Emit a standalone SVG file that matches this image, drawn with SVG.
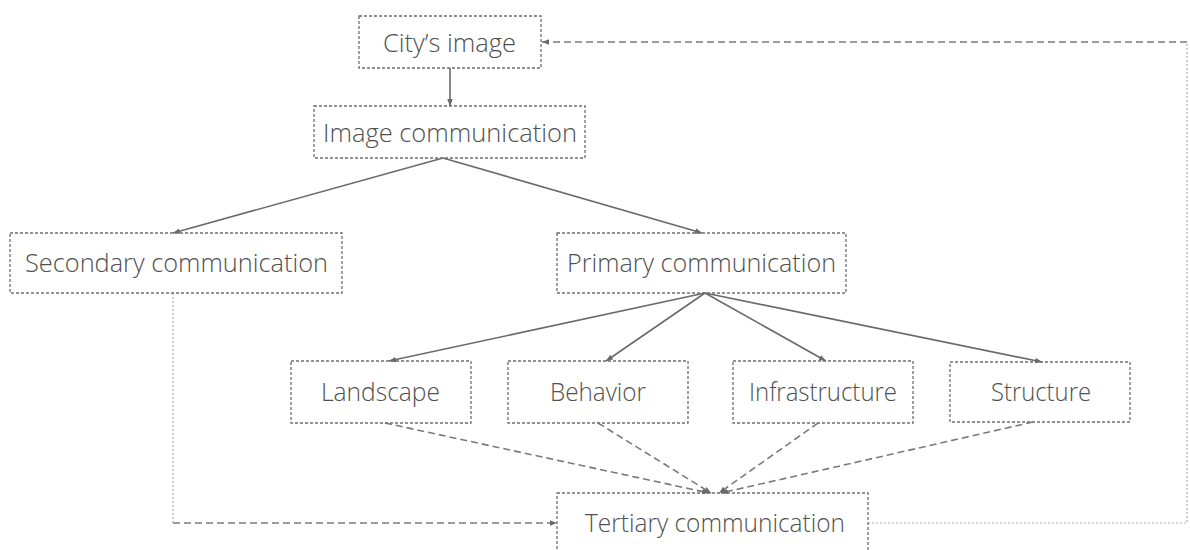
<svg xmlns="http://www.w3.org/2000/svg" width="1190" height="550" viewBox="0 0 1190 550">
<style>
.box{fill:none;stroke:#6e6e6e;stroke-width:1.3;stroke-dasharray:3 2}
.t{font-family:"Open Sans","Liberation Sans",sans-serif;font-weight:300;font-size:25px;fill:#505050;text-anchor:middle}
.solid{fill:none;stroke:#6a6a6a;stroke-width:1.6}
.dash{fill:none;stroke:#7a7a7a;stroke-width:1.6;stroke-dasharray:7 4}
.dot{fill:none;stroke:#b0b0b0;stroke-width:1.2;stroke-dasharray:2 2}
</style>
<defs>
<marker id="ah" viewBox="0 0 10 10" refX="10" refY="5" markerWidth="7" markerHeight="7" markerUnits="userSpaceOnUse" orient="auto"><path d="M0,1 L10,5 L0,9 z" fill="#6a6a6a"/></marker>
</defs>
<rect width="1190" height="550" fill="#fff"/>
<g id="connectors">
<line class="solid" x1="450" y1="68" x2="450" y2="106" marker-end="url(#ah)"/>
<line class="solid" x1="443" y1="158" x2="173" y2="233" marker-end="url(#ah)"/>
<line class="solid" x1="443" y1="158" x2="702" y2="233" marker-end="url(#ah)"/>
<line class="solid" x1="705" y1="293" x2="389" y2="361" marker-end="url(#ah)"/>
<line class="solid" x1="705" y1="293" x2="606" y2="361" marker-end="url(#ah)"/>
<line class="solid" x1="705" y1="293" x2="826" y2="361" marker-end="url(#ah)"/>
<line class="solid" x1="705" y1="293" x2="1042" y2="362" marker-end="url(#ah)"/>
<line class="dash" x1="385" y1="423" x2="709" y2="493" marker-end="url(#ah)"/>
<line class="dash" x1="598" y1="423" x2="711" y2="493" marker-end="url(#ah)"/>
<line class="dash" x1="818" y1="423" x2="719" y2="493" marker-end="url(#ah)"/>
<line class="dash" x1="1033" y1="422" x2="721" y2="493" marker-end="url(#ah)"/>
<polyline class="dot" points="173,293 173,523"/>
<line class="dash" x1="173" y1="523" x2="557" y2="523" marker-end="url(#ah)"/>
<polyline class="dot" points="868,523 1187,523 1187,42"/>
<line class="dash" x1="1187" y1="42" x2="542" y2="42" marker-end="url(#ah)"/>
</g>
<g id="city"><rect class="box" x="359" y="16" width="182" height="52"/><text class="t" x="449.5" y="52" textLength="133" lengthAdjust="spacingAndGlyphs">City’s image</text></g>
<g id="imagecomm"><rect class="box" x="314" y="106" width="271" height="52"/><text class="t" x="450" y="142" textLength="254" lengthAdjust="spacingAndGlyphs">Image communication</text></g>
<g id="secondary"><rect class="box" x="10" y="233" width="332" height="60"/><text class="t" x="176.5" y="272" textLength="303" lengthAdjust="spacingAndGlyphs">Secondary communication</text></g>
<g id="primary"><rect class="box" x="557" y="233" width="289" height="60"/><text class="t" x="701.5" y="272" textLength="269" lengthAdjust="spacingAndGlyphs">Primary communication</text></g>
<g id="landscape"><rect class="box" x="291" y="361" width="180" height="62"/><text class="t" x="380.5" y="401" textLength="119" lengthAdjust="spacingAndGlyphs">Landscape</text></g>
<g id="behavior"><rect class="box" x="508" y="361" width="180" height="62"/><text class="t" x="598" y="401" textLength="96" lengthAdjust="spacingAndGlyphs">Behavior</text></g>
<g id="infrastructure"><rect class="box" x="733" y="361" width="180" height="62"/><text class="t" x="823" y="401" textLength="148" lengthAdjust="spacingAndGlyphs">Infrastructure</text></g>
<g id="structure"><rect class="box" x="950" y="362" width="180" height="60"/><text class="t" x="1041" y="401" textLength="100" lengthAdjust="spacingAndGlyphs">Structure</text></g>
<g id="tertiary"><rect class="box" x="557" y="493" width="311" height="62"/><text class="t" x="715" y="532" textLength="260" lengthAdjust="spacingAndGlyphs">Tertiary communication</text></g>
</svg>
